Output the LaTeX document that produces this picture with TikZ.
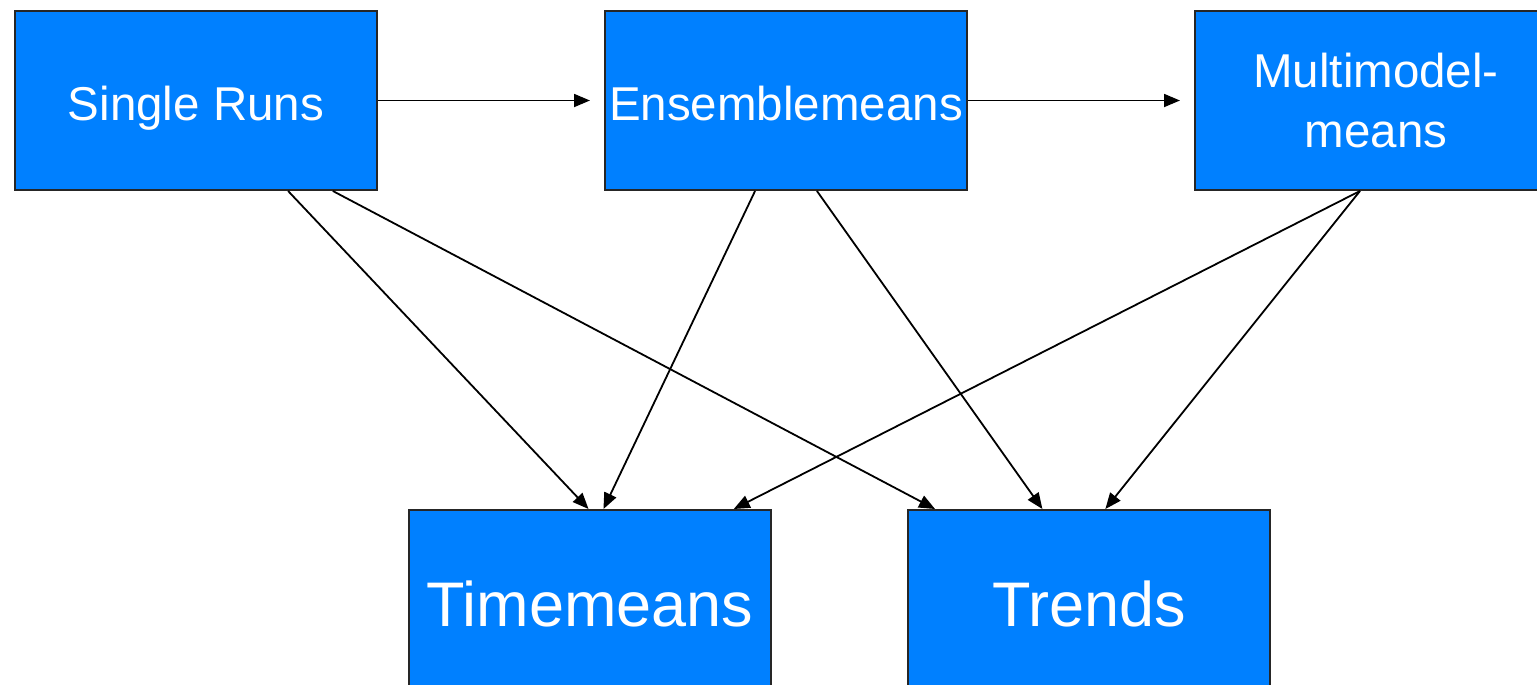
\documentclass[tikz,border=0pt]{standalone}
\usepackage{fontspec}
\setmainfont{Liberation Sans}
\usetikzlibrary{positioning,calc,arrows.meta}
\definecolor{boxblue}{RGB}{0,128,255}

\begin{document}
\begin{tikzpicture}[x=1pt,y=1pt,>={Triangle[length=8pt,width=6.5pt]}]
\tikzstyle{stage}=[draw=black!85,line width=1pt,fill=boxblue,text=white,
minimum width=181pt,minimum height=89.5pt,inner sep=0pt,align=center,
font=\fontsize{23.75}{28.5}\selectfont]
\tikzstyle{oneline}=[text height=20.4pt,text depth=0.5pt]
\tikzstyle{result}=[stage,text height=27.1pt,text depth=0.6pt,
font=\fontsize{31.5}{36}\selectfont]
\tikzstyle{flow}=[->,line width=0.9pt]
\useasboundingbox (0,0) rectangle (768.5,-342.5);
% top row: the three kinds of model output
\node (runs) [stage,oneline] at (98,-50.25) {Single Runs};
\node (ens) [stage,oneline,right=113pt of runs] {Ensemblemeans};
\node (mmm) [stage,right=113pt of ens] {Multimodel-\\[0.05em]means};
% bottom row: what gets computed from them
\node (tmean) [result,anchor=north west] at (204,-254.5) {Timemeans};
\node (trend) [result,anchor=north west] at (453.5,-254.5) {Trends};
%
\draw [flow,shorten >=7pt] (runs.east) -- (ens.west);
\draw [flow,shorten >=7pt] (ens.east) -- (mmm.west);
\draw [flow] ($(runs.south west)!0.753!(runs.south east)$) -- ($(tmean.north west)!0.496!(tmean.north east)$);
\draw [flow] ($(runs.south west)!0.876!(runs.south east)$) -- ($(trend.north west)!0.077!(trend.north east)$);
\draw [flow] ($(ens.south west)!0.415!(ens.south east)$) -- ($(tmean.north west)!0.537!(tmean.north east)$);
\draw [flow] ($(ens.south west)!0.585!(ens.south east)$) -- ($(trend.north west)!0.372!(trend.north east)$);
\draw [flow] ($(mmm.south west)!0.456!(mmm.south east)$) -- ($(tmean.north west)!0.895!(tmean.north east)$);
\draw [flow] ($(mmm.south west)!0.456!(mmm.south east)$) -- ($(trend.north west)!0.545!(trend.north east)$);
\end{tikzpicture}
\end{document}
